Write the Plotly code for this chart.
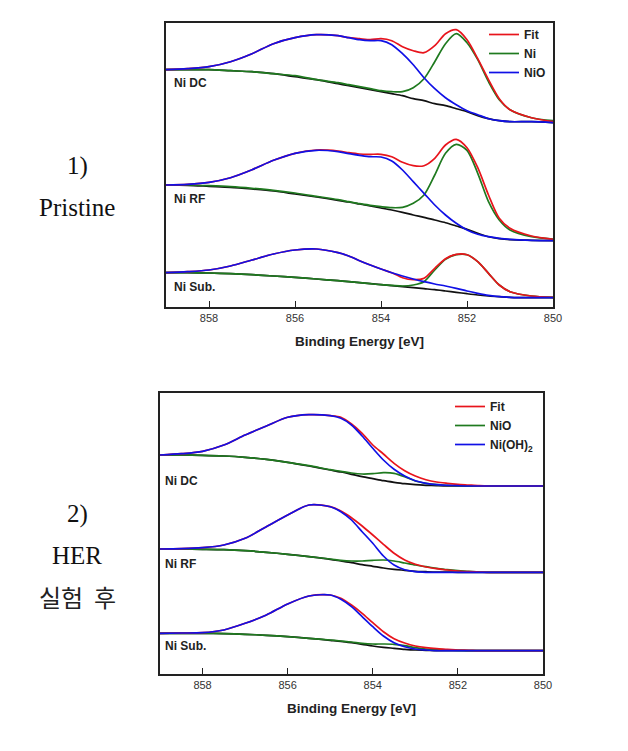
import plotly.graph_objects as go

# Binding energy grid (eV)
energy = [859, 858.5, 858, 857.5, 857, 856.5, 856, 855.5, 855, 854.75, 854.5, 854.25, 854,
          853.75, 853.5, 853.25, 853, 852.75, 852.5, 852.25, 852, 851.75, 851.5, 851.25,
          851, 850.5, 850]
ticks = [858, 856, 854, 852, 850]

# ---- 1) Pristine (offset intensities, a.u.) ----
pri_dc_bg = [237, 237, 237, 236, 235, 233, 230, 227, 223, 221, 219, 217, 215, 213, 211, 208, 206, 203, 201, 198, 195, 191, 188, 186, 185, 185, 184]
pri_dc_ni = [237, 237, 237, 236, 235, 233, 231, 227, 224, 222, 220, 218, 216, 215, 215, 219, 228, 245, 263, 273, 264, 247, 225, 207, 197, 189, 186]
pri_dc_nio = [237, 238, 240, 245, 253, 263, 269, 272, 271, 269, 267, 266, 266, 262, 253, 242, 229, 218, 209, 202, 196, 192, 188, 186, 185, 185, 184]
pri_dc_fit = [237, 238, 240, 245, 253, 263, 269, 272, 271, 269, 268, 267, 268, 266, 260, 256, 254, 261, 273, 277, 267, 248, 227, 208, 197, 189, 185]

pri_rf_bg = [121.7, 121.4, 120.4, 119.4, 117.7, 115.7, 112.7, 109.7, 106.4, 104.7, 102.7, 100.7, 98.7, 96.7, 94.4, 91.7, 89.4, 86.7, 84.0, 80.7, 77.4, 73.4, 70.0, 68.0, 67.0, 66.4, 66.0]
pri_rf_ni = [121.7, 121.7, 121.0, 120.0, 118.4, 116.4, 113.7, 110.4, 107.0, 105.0, 103.0, 101.4, 100.0, 99.0, 99.4, 103.4, 111.7, 131.7, 153.4, 162.4, 156.4, 133.4, 105.0, 86.7, 76.7, 70.0, 67.7]
pri_rf_nio = [121.7, 122.4, 124.4, 129.0, 137.0, 146.4, 153.4, 156.4, 155.0, 153.0, 151.4, 150.0, 149.7, 145.7, 136.7, 125.0, 113.4, 101.7, 91.7, 83.4, 76.7, 72.4, 70.0, 68.4, 67.4, 66.4, 66.0]
pri_rf_fit = [121.7, 122.4, 124.4, 129.0, 137.0, 146.4, 153.4, 156.7, 155.7, 154.0, 152.7, 152.4, 152.4, 150.0, 144.4, 141.0, 141.0, 148.4, 161.7, 167.4, 159.0, 139.0, 111.7, 88.4, 78.4, 70.7, 67.4]

pri_sub_bg = [34.0, 34.0, 33.7, 33.0, 32.0, 30.7, 29.4, 27.7, 26.0, 25.0, 24.0, 23.0, 22.0, 21.0, 20.0, 19.0, 18.0, 17.0, 15.7, 14.4, 13.0, 11.7, 10.7, 10.0, 9.4, 9.0, 9.0]
pri_sub_ni = [34.0, 34.0, 33.7, 33.0, 32.0, 30.7, 29.4, 27.7, 26.0, 25.0, 24.0, 23.0, 22.0, 21.4, 20.7, 21.7, 25.0, 36.7, 47.4, 52.0, 52.0, 45.0, 33.4, 21.7, 15.0, 10.7, 9.4]
pri_sub_nio = [34.0, 35.0, 36.7, 40.7, 46.7, 52.7, 56.7, 57.7, 54.0, 50.7, 46.0, 41.7, 37.7, 34.0, 30.7, 27.7, 25.0, 22.7, 20.7, 18.4, 15.7, 13.4, 11.4, 10.0, 9.4, 9.0, 9.0]
pri_sub_fit = [34.0, 35.0, 36.7, 40.7, 46.7, 52.7, 56.7, 57.7, 54.0, 50.7, 46.0, 41.7, 37.7, 34.0, 29.0, 27.0, 28.4, 38.4, 48.0, 52.4, 52.0, 45.0, 33.4, 21.7, 15.0, 10.7, 9.4]

# ---- 2) After HER ----
her_dc_bg = [219.0, 219.0, 218.7, 218.0, 216.7, 214.7, 211.7, 208.0, 204.0, 202.0, 199.7, 197.3, 195.3, 193.3, 191.7, 190.3, 189.3, 188.7, 188.3, 188.0, 188.0, 188.0, 188.0, 188.0, 188.0, 188.0, 188.0]
her_dc_nio = [219.0, 219.0, 218.7, 218.0, 216.7, 214.7, 211.7, 208.3, 204.3, 202.7, 201.0, 200.0, 200.3, 201.3, 200.7, 197.3, 193.0, 190.7, 189.3, 188.7, 188.3, 188.0, 188.0, 188.0, 188.0, 188.0, 188.0]
her_dc_oh = [219.0, 220.3, 222.7, 229.0, 239.0, 248.0, 256.7, 259.3, 258.3, 255.7, 249.0, 238.0, 225.7, 214.0, 204.7, 198.0, 193.3, 190.7, 189.3, 188.7, 188.3, 188.0, 188.0, 188.0, 188.0, 188.0, 188.0]
her_dc_fit = [219.0, 220.3, 222.7, 229.0, 239.0, 248.0, 256.7, 259.3, 258.3, 256.7, 250.0, 240.7, 229.0, 220.0, 210.7, 203.3, 198.0, 194.3, 192.0, 190.7, 189.7, 189.0, 188.3, 188.0, 188.0, 188.0, 188.0]

her_rf_bg = [125.0, 125.0, 124.7, 124.3, 123.3, 121.7, 119.7, 117.3, 114.7, 113.0, 111.3, 109.3, 107.7, 106.0, 104.7, 103.7, 102.7, 102.3, 102.0, 102.0, 101.7, 101.7, 101.7, 101.7, 101.7, 101.7, 101.7]
her_rf_nio = [125.0, 125.0, 124.7, 124.3, 123.3, 121.7, 119.7, 117.3, 115.0, 113.7, 113.0, 113.0, 113.7, 114.0, 113.0, 111.0, 109.0, 107.3, 105.7, 104.3, 103.3, 102.7, 102.0, 101.7, 101.7, 101.7, 101.7]
her_rf_oh = [125.0, 125.3, 126.3, 129.0, 135.7, 147.3, 159.0, 169.0, 167.3, 162.3, 154.0, 142.3, 130.7, 118.0, 109.0, 104.3, 102.3, 101.7, 101.7, 101.7, 101.7, 101.7, 101.7, 101.7, 101.7, 101.7, 101.7]
her_rf_fit = [125.0, 125.3, 126.3, 129.0, 135.7, 147.3, 159.0, 169.0, 167.3, 163.0, 156.3, 148.0, 139.0, 129.7, 120.7, 114.0, 109.7, 107.0, 105.3, 104.0, 103.0, 102.3, 102.0, 101.7, 101.7, 101.7, 101.7]

her_sub_bg = [40.7, 40.7, 40.7, 40.3, 39.7, 38.7, 37.3, 35.7, 33.7, 32.7, 31.3, 29.7, 28.0, 26.7, 25.7, 24.7, 24.0, 23.7, 23.3, 23.3, 23.3, 23.3, 23.3, 23.3, 23.3, 23.3, 23.3]
her_sub_nio = [40.7, 40.7, 40.7, 40.3, 39.7, 38.7, 37.3, 35.7, 34.0, 33.0, 32.0, 30.7, 30.0, 30.0, 29.7, 28.3, 26.3, 25.0, 24.3, 24.0, 23.7, 23.3, 23.3, 23.3, 23.3, 23.3, 23.3]
her_sub_oh = [40.7, 41.0, 41.3, 44.0, 50.7, 59.0, 70.0, 78.0, 79.0, 74.7, 67.3, 57.3, 47.3, 38.0, 31.3, 27.3, 25.0, 24.0, 23.3, 23.3, 23.3, 23.3, 23.3, 23.3, 23.3, 23.3, 23.3]
her_sub_fit = [40.7, 41.0, 41.3, 44.0, 50.7, 59.0, 70.0, 78.0, 79.0, 75.7, 69.0, 60.7, 51.3, 42.3, 35.3, 31.0, 28.0, 26.3, 25.3, 24.7, 24.0, 23.7, 23.3, 23.3, 23.3, 23.3, 23.3]

sample_names = ["Ni DC", "Ni RF", "Ni Sub."]
pri_label_y = [224, 108, 20]
her_label_y = [193, 110, 28]

RED = "#e8141c"
GREEN = "#1f7a1f"
BLUE = "#1010e6"
BLACK = "#111111"
LW = 1.7
FONT = "Liberation Sans, Arial, sans-serif"

# page offset of the default HTML body margin
OFF = 8
W, H = 628 - 2 * OFF, 751 - 2 * OFF


def px_x(p):
    return (p - OFF) / W


def px_y(p):
    return 1 - (p - OFF) / H


fig = go.Figure()


def add_panel(groups, names, xa, ya, legend):
    for i, (bg, comp1, comp2, fit) in enumerate(groups):
        show = i == 0
        fig.add_trace(go.Scatter(x=energy, y=bg, mode="lines", line=dict(color=BLACK, width=LW, shape="spline", smoothing=0.8),
                                 xaxis=xa, yaxis=ya, showlegend=False, hoverinfo="skip"))
        fig.add_trace(go.Scatter(x=energy, y=comp1, mode="lines", name=names[1],
                                 line=dict(color=GREEN, width=LW, shape="spline", smoothing=0.8),
                                 xaxis=xa, yaxis=ya, showlegend=show, legend=legend, legendrank=2))
        fig.add_trace(go.Scatter(x=energy, y=fit, mode="lines", name=names[0],
                                 line=dict(color=RED, width=LW, shape="spline", smoothing=0.8),
                                 xaxis=xa, yaxis=ya, showlegend=show, legend=legend, legendrank=1))
        fig.add_trace(go.Scatter(x=energy, y=comp2, mode="lines", name=names[2],
                                 line=dict(color=BLUE, width=LW, shape="spline", smoothing=0.8),
                                 xaxis=xa, yaxis=ya, showlegend=show, legend=legend, legendrank=3))


add_panel([(pri_dc_bg, pri_dc_ni, pri_dc_nio, pri_dc_fit),
           (pri_rf_bg, pri_rf_ni, pri_rf_nio, pri_rf_fit),
           (pri_sub_bg, pri_sub_ni, pri_sub_nio, pri_sub_fit)],
          ["Fit", "Ni", "NiO"], "x", "y", "legend")
add_panel([(her_dc_bg, her_dc_nio, her_dc_oh, her_dc_fit),
           (her_rf_bg, her_rf_nio, her_rf_oh, her_rf_fit),
           (her_sub_bg, her_sub_nio, her_sub_oh, her_sub_fit)],
          ["Fit", "NiO", "Ni(OH)<sub>2</sub>"], "x2", "y2", "legend2")

xcommon = dict(range=[859, 850], tickvals=ticks, ticks="inside", ticklen=6, tickwidth=1.2,
               tickcolor="#222", showline=True, linecolor="#222", linewidth=1.5, mirror=True,
               showgrid=False, zeroline=False,
               tickfont=dict(family=FONT, size=11, color="#333"),
               title=dict(text="Binding Energy [eV]", font=dict(family=FONT, size=13.5, color="#222", weight="bold"), standoff=14))
ycommon = dict(showline=True, linecolor="#222", linewidth=1.5, mirror=True, showgrid=False,
               zeroline=False, showticklabels=False, ticks="")

fig.update_layout(
    width=W, height=H, margin=dict(l=0, r=0, t=0, b=0, autoexpand=False),
    paper_bgcolor="white", plot_bgcolor="white",
    xaxis=dict(domain=[px_x(166), px_x(553)], anchor="y", **xcommon),
    yaxis=dict(domain=[px_y(306.7), px_y(22.7)], range=[0, 284], anchor="x", **ycommon),
    xaxis2=dict(domain=[px_x(160), px_x(543)], anchor="y2", **xcommon),
    yaxis2=dict(domain=[px_y(674), px_y(393)], range=[0, 281], anchor="x2", **ycommon),
    legend=dict(x=px_x(484), y=px_y(20), xanchor="left", yanchor="top", bgcolor="rgba(0,0,0,0)",
                font=dict(family=FONT, size=12, color="#222", weight="bold"), tracegroupgap=0),
    legend2=dict(x=px_x(450), y=px_y(392), xanchor="left", yanchor="top", bgcolor="rgba(0,0,0,0)",
                 font=dict(family=FONT, size=12, color="#222", weight="bold"), tracegroupgap=0),
)

annos = []
for name, yv in zip(sample_names, pri_label_y):
    annos.append(dict(x=858.85, y=yv, xref="x", yref="y", text=name, showarrow=False, xanchor="left",
                      yanchor="middle", font=dict(family=FONT, size=12, color="#222", weight="bold")))
for name, yv in zip(sample_names, her_label_y):
    annos.append(dict(x=858.93, y=yv, xref="x2", yref="y2", text=name, showarrow=False, xanchor="left",
                      yanchor="middle", font=dict(family=FONT, size=12, color="#222", weight="bold")))

SERIF = "Liberation Serif, DejaVu Serif, serif"
side = [("1)", 166), ("Pristine", 207), ("2)", 514), ("HER", 555)]
for txt, py in side:
    annos.append(dict(x=px_x(77), y=px_y(py), xref="paper", yref="paper", text=txt, showarrow=False,
                      xanchor="center", yanchor="middle", font=dict(family=SERIF, size=25, color="#111")))
annos.append(dict(x=px_x(77), y=px_y(596), xref="paper", yref="paper", text="실험  후", showarrow=False,
                  xanchor="center", yanchor="middle", font=dict(family="Noto Sans CJK KR", size=24, color="#222")))
fig.update_layout(annotations=annos)

fig.write_html("out.html")
